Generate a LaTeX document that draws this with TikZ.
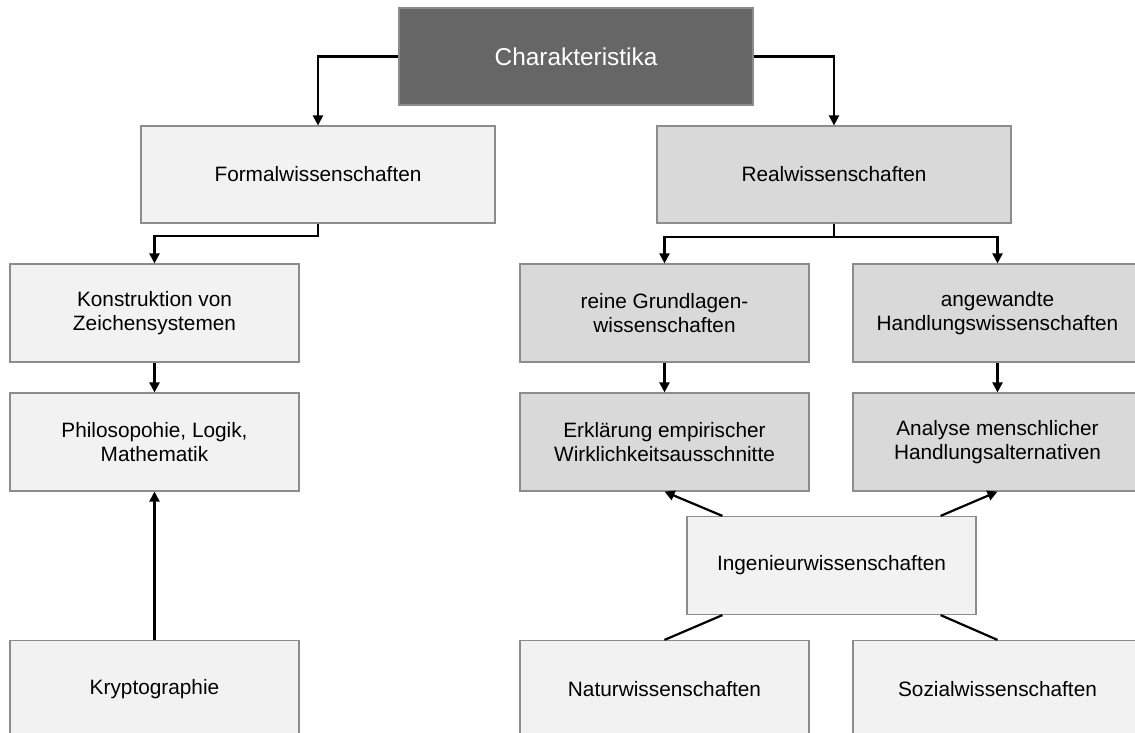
\documentclass[tikz,border=0pt]{standalone}
\usepackage{fontspec}
\setmainfont{Liberation Sans}
\usetikzlibrary{arrows.meta}
\begin{document}
\begin{tikzpicture}[x=0.5pt,y=-0.5pt,
  box/.style={draw=black!45,line width=0.6pt,fill=black!5,minimum width=144.5pt,
    minimum height=49pt,align=center,inner sep=2pt,font=\fontsize{10.4}{12}\selectfont},
  real/.style={box,fill=black!15},
  wide/.style={minimum width=177pt,minimum height=48.5pt},
  arr/.style={-{Triangle[length=5pt,width=5pt]},line width=1.1pt},
  link/.style={line width=1.1pt}]
  \useasboundingbox (0,0) rectangle (1135,733);
  \clip (0,0) rectangle (1135,733);
  \node[box,wide,fill=black!60,text=white,font=\fontsize{12.2}{14}\selectfont] (char) at (576,56.5) {Charakteristika};
  \node[box,wide] (formal) at (318,174.5) {Formalwissenschaften};
  \node[real,wide] (realw) at (834,174.5) {Realwissenschaften};
  \node[box] (konstr) at (154.5,313) {Konstruktion von\\Zeichensystemen};
  \node[real] (grundl) at (664.5,313) {reine Grundlagen-\\wissenschaften};
  \node[real] (handl) at (997.5,313) {angewandte\\Handlungswissenschaften};
  \node[box] (philo) at (154.5,442) {Philosopohie, Logik,\\Mathematik};
  \node[real] (erkl) at (664.5,442) {Erklärung empirischer\\Wirklichkeitsausschnitte};
  \node[real] (analyse) at (997.5,442) {Analyse menschlicher\\Handlungsalternativen};
  \node[box] (ingen) at (831.5,565.5) {Ingenieurwissenschaften};
  \node[box] (krypto) at (154.5,689.5) {Kryptographie};
  \node[box] (natur) at (664.5,689.5) {Naturwissenschaften};
  \node[box] (sozial) at (997.5,689.5) {Sozialwissenschaften};
  % connectors
  \draw[arr] (char.west) -| (formal.north);
  \draw[arr] (char.east) -| (realw.north);
  \draw[arr] (formal.south) -- ++(0,12) -| (konstr.north);
  \draw[arr] (realw.south) -- ++(0,13) -| (grundl.north);
  \draw[arr] (realw.south) -- ++(0,13) -| (handl.north);
  \draw[arr] (konstr) -- (philo);
  \draw[arr] (grundl) -- (erkl);
  \draw[arr] (handl) -- (analyse);
  \draw[arr] (krypto) -- (philo);
  \draw[arr] ([xshift=18pt]ingen.north west) -- (erkl.south);
  \draw[arr] ([xshift=-18pt]ingen.north east) -- (analyse.south);
  \draw[link] ([xshift=18pt]ingen.south west) -- (natur.north);
  \draw[link] ([xshift=-18pt]ingen.south east) -- (sozial.north);
\end{tikzpicture}
\end{document}
